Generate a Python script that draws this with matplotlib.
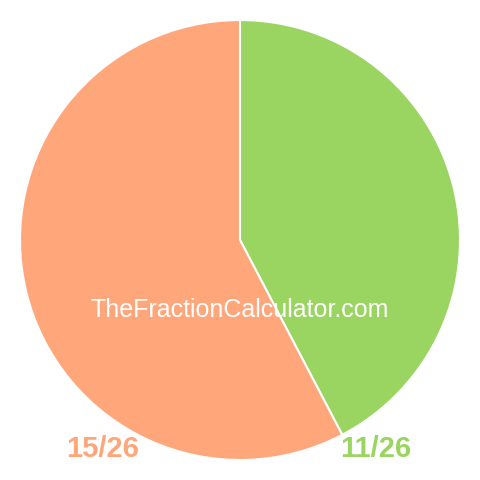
import matplotlib.pyplot as plt

plt.rcParams['font.family'] = ['Liberation Sans', 'DejaVu Sans']

labels = ['11/26', '15/26']
values = [11, 15]
colors = ['#9ad461', '#ffa77b']

fig = plt.figure(figsize=(4.8, 4.8), dpi=100)
ax = fig.add_axes([0, 0, 1, 1])

ax.pie(values, colors=colors, startangle=90, counterclock=False,
       center=(240, 240), radius=220, frame=True,
       wedgeprops=dict(edgecolor='white', linewidth=1.5))
ax.set_xlim(0, 480)
ax.set_ylim(0, 480)
ax.set_aspect('equal')
ax.axis('off')

ax.text(240, 170, 'TheFractionCalculator.com', color='white', fontsize=18,
        ha='center', va='center')

# fraction labels under the pie
ax.text(103, 31, labels[1], color=colors[1], fontsize=21, fontweight='bold',
        ha='center', va='center')
ax.text(376, 31, labels[0], color=colors[0], fontsize=21, fontweight='bold',
        ha='center', va='center')

fig.savefig('out.png', dpi=100)
